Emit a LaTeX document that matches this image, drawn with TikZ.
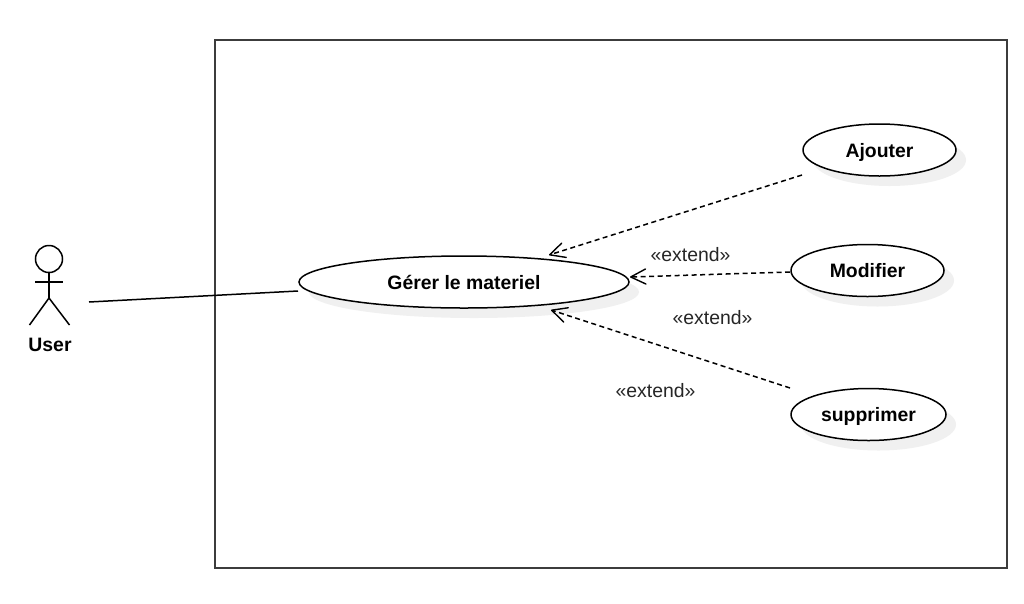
\documentclass[tikz,border=0pt]{standalone}
\usepackage{fontspec}
\setmainfont{Liberation Sans}
\usetikzlibrary{shapes.geometric,arrows.meta,calc}
\definecolor{shadowgray}{HTML}{F0F0F0}
\definecolor{framegray}{HTML}{3C3C3C}
\tikzset{
  usecase/.style={ellipse,draw=black,fill=white,line width=1.5pt,inner sep=0pt,minimum height=52pt,font=\fontsize{19.4}{21}\selectfont\bfseries,text=black,text height=14pt,text depth=0pt},
  caseshadow/.style={ellipse,fill=shadowgray,inner sep=0pt,minimum height=52pt},
  extendline/.style={dash pattern=on 5pt off 3.5pt,line width=1.5pt,-{Straight Barb[length=15pt,width=15pt,line width=1.4pt,round=false]}},
  assoc/.style={line width=1.5pt},
  stereo/.style={font=\fontsize{19.4}{21}\selectfont,text=black!85,inner sep=0pt},
  actorline/.style={line width=1.5pt},
  framebox/.style={draw=framegray,line width=2pt,fill=white}
}
\begin{document}
\begin{tikzpicture}[x=1pt,y=-1pt]
\useasboundingbox (0,0) rectangle (1024,603);
\fill[white] (0,0) rectangle (1024,603);
\draw[framebox] (215,40) rectangle (1007,568);
% shadows
\node[caseshadow,minimum width=330pt] at (474,292) {};
\node[caseshadow,minimum width=153pt] at (889.5,160) {};
\node[caseshadow,minimum width=153pt] at (877.5,280.5) {};
\node[caseshadow,minimum width=155pt] at (878.5,424.5) {};
% use cases
\node[usecase,minimum width=330pt] (main) at (464,282) {Gérer le materiel};
\node[usecase,minimum width=153pt] (ajouter) at (879.5,150) {Ajouter};
\node[usecase,minimum width=153pt] (modifier) at (867.5,270.5) {Modifier};
\node[usecase,minimum width=155pt] (supprimer) at (868.5,414.5) {supprimer};
% actor
\node[circle,draw=black,line width=1.5pt,fill=white,minimum size=27pt,inner sep=0pt] (head) at (49,259) {};
\coordinate (hip) at (49,298);
\coordinate (armL) at (35,282);
\coordinate (armR) at (63,282);
\coordinate (footL) at (29.5,325);
\coordinate (footR) at (69.5,325);
\draw[actorline] (head.south) -- (hip);
\draw[actorline] (armL) -- (armR);
\draw[actorline] (footL) -- (hip) -- (footR);
\node[font=\fontsize{19.4}{21}\selectfont\bfseries,inner sep=0pt] (user) at (50,345) {User};
\coordinate (userend) at (89,302);
% connectors
\draw[assoc] (userend) -- ([shift={(-166,9)}]main.center);
\draw[extendline] ([shift={(-77.5,25)}]ajouter.center) -- ([shift={(85,-27)}]main.center);
\draw[extendline] ([shift={(-77.5,1.5)}]modifier.center) -- ([shift={(166,-5)}]main.center);
\draw[extendline] ([shift={(-78.5,-26.5)}]supprimer.center) -- ([shift={(87,28)}]main.center);
% labels
\node[stereo] (l1) at (690.5,255) {«extend»};
\node[stereo] (l2) at (712.5,317.5) {«extend»};
\node[stereo] (l3) at (655.5,390.5) {«extend»};
\end{tikzpicture}
\end{document}
